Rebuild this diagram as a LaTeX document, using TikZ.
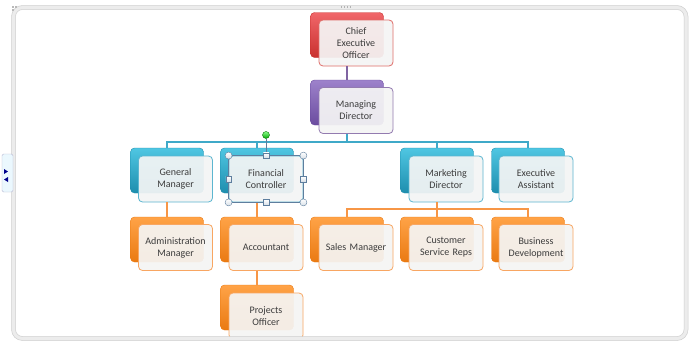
\documentclass[tikz,border=0pt]{standalone}
\usepackage{fontspec}
\setmainfont{Carlito}
\usetikzlibrary{positioning, backgrounds}
\definecolor{rougeh}{HTML}{F0676A}
\definecolor{rougeb}{HTML}{C9302E}
\definecolor{rougec}{HTML}{D9534F}
\definecolor{violeth}{HTML}{9D82CB}
\definecolor{violetb}{HTML}{6B4C9F}
\definecolor{violetc}{HTML}{8064A2}
\definecolor{bleuh}{HTML}{4FC6E2}
\definecolor{bleub}{HTML}{1E8EAE}
\definecolor{bleuc}{HTML}{3FA9C8}
\definecolor{orangeh}{HTML}{FFA347}
\definecolor{orangeb}{HTML}{EA7A12}
\definecolor{orangec}{HTML}{F79646}
\definecolor{texte}{HTML}{3C3C3C}
\definecolor{selc}{HTML}{5E7E9E}
\definecolor{cadrec}{HTML}{CFCFCF}

\begin{document}
\begin{tikzpicture}[
  x=1pt, y=-1pt,
  font=\fontsize{10}{12}\selectfont,
  % bloc du fond : ombré, un peu plus haut et à gauche
  fond/.style={rounded corners=4pt, minimum width=73pt, minimum height=45pt,
               inner sep=0pt},
  fondr/.style={fond, draw=rougeb, top color=rougeh, bottom color=rougeb},
  fondv/.style={fond, draw=violetb, top color=violeth, bottom color=violetb},
  fondb/.style={fond, draw=bleub, top color=bleuh, bottom color=bleub},
  fondo/.style={fond, draw=orangeb, top color=orangeh, bottom color=orangeb},
  % bloc de face : porte le libellé
  face/.style={rounded corners=4pt, minimum width=74pt, minimum height=46pt,
               text width=68pt, align=center, inner sep=0pt, text=texte,
               fill opacity=.93, text opacity=1, line width=0.8pt},
  facer/.style={face, draw=rougec!85, fill=rougec!6!gray!8},
  facev/.style={face, draw=violetc!85, fill=violetc!6!gray!8},
  faceb/.style={face, draw=bleuc!85, fill=bleuc!7!gray!8},
  faceo/.style={face, draw=orangec!85, fill=orangec!7!gray!8},
  lienv/.style={draw=violetc, line width=2pt},
  lienb/.style={draw=bleuc, line width=2pt},
  lieno/.style={draw=orangec, line width=2pt},
  sel/.style={selc, line width=0.7pt},
  poignee/.style={circle, draw=selc, inner sep=0pt, minimum size=7pt,
                  top color=white, bottom color=selc!25},
  carre/.style={rectangle, draw=selc, inner sep=0pt, minimum size=5.5pt,
                top color=white, bottom color=selc!25},
  rot/.style={circle, draw=green!45!black, inner sep=0pt, minimum size=7pt,
              top color=green!45, bottom color=green!65!black},
]
\useasboundingbox (0,0) rectangle (690,340);
\fill[white] (0,0) rectangle (690,340);
% ---- blocs du fond
\node[fondr] (ceo-b) at (347,35) {};
\node[fondv] (md-b) at (347,102.5) {};
\node[fondb] (gm-b) at (167,170.5) {};
\node[fondb] (fc-b) at (257,170.5) {};
\node[fondb] (mkd-b) at (437,170.5) {};
\node[fondb] (ea-b) at (528,170.5) {};
\node[fondo] (am-b) at (167,239.5) {};
\node[fondo] (acc-b) at (257,239.5) {};
\node[fondo] (sm-b) at (347,239.5) {};
\node[fondo] (csr-b) at (437,239.5) {};
\node[fondo] (bd-b) at (528,239.5) {};
\node[fondo] (po-b) at (257,307.5) {};
% ---- blocs de face
\node[facer] (ceo) at (356,43) {Chief\\Executive\\Officer};
\node[facev] (md) at (356,110.5) {Managing\\Director};
\node[faceb] (gm) at (175.5,179) {General\\Manager};
\node[faceb] (fc) at (266,179) {Financial\\Controller};
\node[faceb] (mkd) at (446,179) {Marketing\\Director};
\node[faceb] (ea) at (536,179) {Executive\\Assistant};
\node[faceo] (am) at (175.5,247.5) {Administration\\Manager};
\node[faceo] (acc) at (266,247.5) {Accountant};
\node[faceo] (sm) at (356,247.5) {Sales Manager};
\node[faceo] (csr) at (446,247.5) {Customer\\Service Reps};
\node[faceo] (bd) at (536,247.5) {Business\\Development};
\node[faceo] (po) at (266,316) {Projects\\Officer};
% ---- liaisons, du bas d'un bloc au haut du suivant
\coordinate (bus1) at (347,142);
\coordinate (bus2) at (437,209);
\draw[lienv] (ceo-b.center |- ceo.south) -- (md-b.north);
\draw[lienb] (md-b.center |- md.south) -- (bus1);
\draw[lienb] (gm-b.north) |- (bus1) -| (ea-b.north);
\draw[lienb] (fc-b.center |- bus1) -- (fc-b.north);
\draw[lienb] (mkd-b.center |- bus1) -- (mkd-b.north);
\draw[lieno] (gm-b.center |- gm.south) -- (am-b.north);
\draw[lieno] (fc-b.center |- fc.south) -- (acc-b.north);
\draw[lieno] (acc-b.center |- acc.south) -- (po-b.north);
\draw[lieno] (mkd-b.center |- mkd.south) -- (bus2);
\draw[lieno] (sm-b.north) |- (bus2) -| (bd-b.north);
\draw[lieno] (csr-b.center |- bus2) -- (csr-b.north);
% ---- sélection du bloc Financial Controller
\node[rot] (tourne) at (266,135) {};
\draw[sel] (tourne) -- (fc.north);
\draw[sel] (fc.north west) rectangle (fc.south east);
\foreach \a in {north west, north east, south west, south east}
  \node[poignee] at (fc.\a) {};
\foreach \a in {north, south, east, west}
  \node[carre] at (fc.\a) {};
% ---- cadre de la zone de dessin
\draw[cadrec!40, line width=4pt, rounded corners=9pt] (13.5,7.5) rectangle (686,338.5);
\draw[cadrec, line width=0.5pt, rounded corners=11pt] (11.5,5.5) rectangle (688,340.5);
\draw[cadrec, line width=0.5pt, rounded corners=7pt] (15.5,9.5) rectangle (684,336.5);
\foreach \i in {0,...,3}
  \fill[gray!60] (340.5+3*\i,6) rectangle ++(1.6,1.6);
\fill[gray!55] (12,6) rectangle ++(1.6,1.6);
\fill[gray!55] (15,6) rectangle ++(1.6,1.6);
\fill[gray!55] (12,9) rectangle ++(1.6,1.6);
% ---- onglet de gauche
\draw[cadrec!90!blue, fill=cyan!8, rounded corners=1.5pt] (2,154) rectangle (13,192);
\fill[blue!55!black] (4,169) -- (8,171.5) -- (4,174) -- cycle;
\fill[blue!55!black] (8,177) -- (4,179.5) -- (8,182) -- cycle;
\end{tikzpicture}
\end{document}
